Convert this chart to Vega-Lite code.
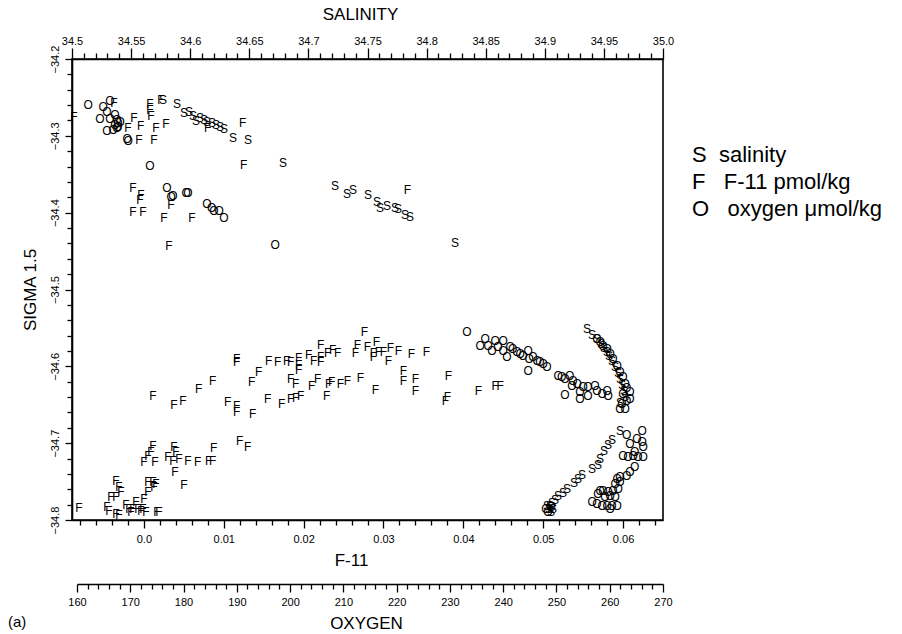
{
"$schema":"https://vega.github.io/schema/vega-lite/v6.json",
"width":591,"height":461,
"autosize":{"type":"none"},
"padding":{"left":72,"top":59,"right":239,"bottom":114},
"background":"white",
"title":{"text":"(a)","orient":"bottom","anchor":"start","frame":"group","dx":-64,"dy":-20,"fontSize":15,"fontWeight":"normal","font":"Liberation Sans","color":"black"},
"datasets":{"pts":[
{"t":"S","x":34.577,"y":-34.2532},{"t":"S","x":34.5888,"y":-34.2584},{"t":"S","x":34.5948,"y":-34.2701},{"t":"S","x":34.599,"y":-34.2688},{"t":"S","x":34.6024,"y":-34.274},{"t":"S","x":34.6049,"y":-34.2805},{"t":"S","x":34.6083,"y":-34.2766},{"t":"S","x":34.6117,"y":-34.2792},{"t":"S","x":34.6142,"y":-34.2818},{"t":"S","x":34.6184,"y":-34.2831},{"t":"S","x":34.6218,"y":-34.2857},{"t":"S","x":34.6252,"y":-34.2883},{"t":"S","x":34.6286,"y":-34.2909},{"t":"S","x":34.6362,"y":-34.3026},{"t":"S","x":34.6489,"y":-34.3052},{"t":"S","x":34.6785,"y":-34.3351},{"t":"S","x":34.7225,"y":-34.3649},{"t":"S","x":34.7327,"y":-34.3753},{"t":"S","x":34.7377,"y":-34.3701},{"t":"S","x":34.7504,"y":-34.3766},{"t":"S","x":34.758,"y":-34.3857},{"t":"S","x":34.7606,"y":-34.3935},{"t":"S","x":34.7665,"y":-34.3909},{"t":"S","x":34.7733,"y":-34.3935},{"t":"S","x":34.7758,"y":-34.3948},{"t":"S","x":34.7817,"y":-34.4026},{"t":"S","x":34.7859,"y":-34.4052},{"t":"S","x":34.824,"y":-34.439},
{"t":"S","x":34.9357,"y":-34.5519},{"t":"S","x":34.9399,"y":-34.5597},{"t":"S","x":34.9442,"y":-34.5649},{"t":"S","x":34.9475,"y":-34.5714},{"t":"S","x":34.9501,"y":-34.5766},{"t":"S","x":34.9526,"y":-34.5818},{"t":"S","x":34.9543,"y":-34.587},{"t":"S","x":34.9568,"y":-34.5935},{"t":"S","x":34.9594,"y":-34.6013},{"t":"S","x":34.9619,"y":-34.6091},{"t":"S","x":34.9636,"y":-34.6169},{"t":"S","x":34.9653,"y":-34.6247},{"t":"S","x":34.967,"y":-34.6325},{"t":"S","x":34.9678,"y":-34.6403},{"t":"S","x":34.9636,"y":-34.6481},
{"t":"S","x":34.9636,"y":-34.6844},{"t":"S","x":34.9568,"y":-34.6961},{"t":"S","x":34.9535,"y":-34.7026},{"t":"S","x":34.9501,"y":-34.7104},{"t":"S","x":34.9467,"y":-34.7208},{"t":"S","x":34.945,"y":-34.7286},{"t":"S","x":34.9399,"y":-34.7338},{"t":"S","x":34.9315,"y":-34.7416},{"t":"S","x":34.9281,"y":-34.7468},{"t":"S","x":34.9247,"y":-34.752},{"t":"S","x":34.9188,"y":-34.7597},{"t":"S","x":34.9154,"y":-34.7649},{"t":"S","x":34.9112,"y":-34.7688},{"t":"S","x":34.9086,"y":-34.774},{"t":"S","x":34.9061,"y":-34.7779},{"t":"S","x":34.9044,"y":-34.7818},{"t":"S","x":34.9035,"y":-34.7857},{"t":"S","x":34.9069,"y":-34.7857},{"t":"S","x":34.9052,"y":-34.7896},{"t":"S","x":34.9019,"y":-34.7818},
{"t":"F","x":-0.00875,"y":-34.2753},{"t":"F","x":-0.00375,"y":-34.2571},{"t":"F","x":-0.002,"y":-34.2896},{"t":"F","x":-0.00125,"y":-34.2766},{"t":"F","x":-0.0004,"y":-34.287},{"t":"F","x":0.00075,"y":-34.2584},{"t":"F","x":0.00075,"y":-34.2662},{"t":"F","x":0.000875,"y":-34.274},{"t":"F","x":0.0015,"y":-34.2896},{"t":"F","x":0.00275,"y":-34.2844},{"t":"F","x":-0.000625,"y":-34.3052},{"t":"F","x":0.00125,"y":-34.3052},{"t":"F","x":0.008,"y":-34.2896},{"t":"F","x":0.002125,"y":-34.2532},{"t":"F","x":0.012375,"y":-34.2831},{"t":"F","x":0.0125,"y":-34.3377},{"t":"F","x":0.033,"y":-34.3701},
{"t":"F","x":-0.001375,"y":-34.3675},{"t":"F","x":-0.000375,"y":-34.3766},{"t":"F","x":-0.0005,"y":-34.3831},{"t":"F","x":-0.001375,"y":-34.3987},{"t":"F","x":-0.000125,"y":-34.3987},{"t":"F","x":0.0025,"y":-34.4065},{"t":"F","x":0.003375,"y":-34.3896},{"t":"F","x":0.006,"y":-34.4065},{"t":"F","x":0.003125,"y":-34.4429},
{"t":"F","x":0.011625,"y":-34.5909},{"t":"F","x":0.011625,"y":-34.5948},{"t":"F","x":0.015625,"y":-34.5935},{"t":"F","x":0.01675,"y":-34.5948},{"t":"F","x":0.017875,"y":-34.5935},{"t":"F","x":0.018375,"y":-34.5948},{"t":"F","x":0.019375,"y":-34.5896},{"t":"F","x":0.019375,"y":-34.5987},{"t":"F","x":0.019375,"y":-34.6052},{"t":"F","x":0.020625,"y":-34.5857},{"t":"F","x":0.02125,"y":-34.5935},{"t":"F","x":0.022125,"y":-34.5727},{"t":"F","x":0.022125,"y":-34.5883},{"t":"F","x":0.022125,"y":-34.5948},{"t":"F","x":0.023,"y":-34.5831},{"t":"F","x":0.023625,"y":-34.5792},{"t":"F","x":0.02425,"y":-34.5831},{"t":"F","x":0.0265,"y":-34.5831},{"t":"F","x":0.02675,"y":-34.5727},{"t":"F","x":0.027625,"y":-34.5558},{"t":"F","x":0.028,"y":-34.5753},{"t":"F","x":0.029125,"y":-34.5688},{"t":"F","x":0.02875,"y":-34.5831},{"t":"F","x":0.02875,"y":-34.5883},{"t":"F","x":0.029375,"y":-34.5818},{"t":"F","x":0.03,"y":-34.5818},{"t":"F","x":0.030875,"y":-34.5766},{"t":"F","x":0.030625,"y":-34.5935},{"t":"F","x":0.031875,"y":-34.5805},{"t":"F","x":0.0335,"y":-34.5844},{"t":"F","x":0.035375,"y":-34.5818},
{"t":"F","x":0.0135,"y":-34.6208},{"t":"F","x":0.014375,"y":-34.6078},{"t":"F","x":0.008625,"y":-34.6195},{"t":"F","x":0.006875,"y":-34.6299},{"t":"F","x":0.004875,"y":-34.6455},{"t":"F","x":0.00375,"y":-34.6506},{"t":"F","x":0.001125,"y":-34.639},
{"t":"F","x":0.0105,"y":-34.6468},{"t":"F","x":0.011625,"y":-34.6519},{"t":"F","x":0.011625,"y":-34.6597},{"t":"F","x":0.013625,"y":-34.6623},{"t":"F","x":0.0155,"y":-34.6429},{"t":"F","x":0.01725,"y":-34.6494},{"t":"F","x":0.018375,"y":-34.6429},{"t":"F","x":0.019,"y":-34.6416},{"t":"F","x":0.019625,"y":-34.639},{"t":"F","x":0.018375,"y":-34.6169},{"t":"F","x":0.019,"y":-34.6234},{"t":"F","x":0.021,"y":-34.626},{"t":"F","x":0.02175,"y":-34.6169},{"t":"F","x":0.022875,"y":-34.639},{"t":"F","x":0.023125,"y":-34.6234},{"t":"F","x":0.0235,"y":-34.6208},{"t":"F","x":0.024625,"y":-34.6234},{"t":"F","x":0.0255,"y":-34.6195},{"t":"F","x":0.027125,"y":-34.6156},{"t":"F","x":0.029,"y":-34.6312},{"t":"F","x":0.0325,"y":-34.6065},{"t":"F","x":0.0325,"y":-34.6195},{"t":"F","x":0.034,"y":-34.6169},{"t":"F","x":0.034,"y":-34.6325},{"t":"F","x":0.038125,"y":-34.613},{"t":"F","x":0.038,"y":-34.6403},{"t":"F","x":0.03775,"y":-34.6455},{"t":"F","x":0.041875,"y":-34.6325},{"t":"F","x":0.044,"y":-34.626},{"t":"F","x":0.044625,"y":-34.626},{"t":"F","x":0.012,"y":-34.6974},{"t":"F","x":0.013,"y":-34.7052},
{"t":"F","x":-0.0035,"y":-34.7493},{"t":"F","x":-0.003125,"y":-34.7571},{"t":"F","x":-0.002875,"y":-34.7636},{"t":"F","x":-0.004125,"y":-34.7701},{"t":"F","x":-0.0035,"y":-34.7701},{"t":"F","x":-0.004375,"y":-34.7883},{"t":"F","x":-0.0035,"y":-34.7922},{"t":"F","x":-0.003125,"y":-34.7935},{"t":"F","x":-0.008125,"y":-34.7844},{"t":"F","x":-0.001875,"y":-34.7857},{"t":"F","x":-0.001375,"y":-34.7857},{"t":"F","x":-0.001,"y":-34.7766},{"t":"F","x":-0.00075,"y":-34.7857},{"t":"F","x":-0.000125,"y":-34.7857},{"t":"F","x":0,"y":-34.7727},{"t":"F","x":0.0005,"y":-34.7636},{"t":"F","x":0.0005,"y":-34.7506},{"t":"F","x":0.001125,"y":-34.7506},{"t":"F","x":0.0015,"y":-34.7532},{"t":"F","x":0.00125,"y":-34.7571},{"t":"F","x":0.001625,"y":-34.7896},{"t":"F","x":0.001875,"y":-34.7896},{"t":"F","x":-0.00225,"y":-34.7805},{"t":"F","x":-0.001625,"y":-34.7896},{"t":"F","x":-0.000375,"y":-34.7883},{"t":"F","x":0.00025,"y":-34.7896},{"t":"F","x":-0.004625,"y":-34.7831},
{"t":"F","x":0.001125,"y":-34.7039},{"t":"F","x":0.000875,"y":-34.7117},{"t":"F","x":0.0005,"y":-34.7169},{"t":"F","x":0,"y":-34.7247},{"t":"F","x":0.001375,"y":-34.7247},{"t":"F","x":0.003,"y":-34.7182},{"t":"F","x":0.00375,"y":-34.7052},{"t":"F","x":0.004,"y":-34.7117},{"t":"F","x":0.003625,"y":-34.7234},{"t":"F","x":0.004375,"y":-34.7208},{"t":"F","x":0.003875,"y":-34.7377},{"t":"F","x":0.0055,"y":-34.7234},{"t":"F","x":0.00675,"y":-34.7247},{"t":"F","x":0.008125,"y":-34.7234},{"t":"F","x":0.008625,"y":-34.7234},{"t":"F","x":0.00875,"y":-34.7065},{"t":"F","x":0.005,"y":-34.7545},
{"t":"O","x":162.1,"y":-34.2597},{"t":"O","x":164.9,"y":-34.2623},{"t":"O","x":166.2,"y":-34.2545},{"t":"O","x":164.3,"y":-34.2779},{"t":"O","x":165.6,"y":-34.2688},{"t":"O","x":166.2,"y":-34.2779},{"t":"O","x":165.6,"y":-34.2935},{"t":"O","x":167.1,"y":-34.2727},{"t":"O","x":167.5,"y":-34.2792},{"t":"O","x":167.7,"y":-34.2831},{"t":"O","x":167.1,"y":-34.2857},{"t":"O","x":167.5,"y":-34.2896},{"t":"O","x":166.8,"y":-34.2922},{"t":"O","x":168.1,"y":-34.2818},{"t":"O","x":167.7,"y":-34.2883},{"t":"O","x":169.4,"y":-34.3039},{"t":"O","x":169.6,"y":-34.3065},{"t":"O","x":173.7,"y":-34.339},{"t":"O","x":176.9,"y":-34.3675},{"t":"O","x":177.7,"y":-34.3792},{"t":"O","x":178.0,"y":-34.3779},{"t":"O","x":180.5,"y":-34.374},{"t":"O","x":180.8,"y":-34.374},{"t":"O","x":184.4,"y":-34.3883},{"t":"O","x":185.3,"y":-34.3935},{"t":"O","x":185.7,"y":-34.3974},{"t":"O","x":186.7,"y":-34.3974},{"t":"O","x":187.6,"y":-34.4065},{"t":"O","x":197.2,"y":-34.4416},
{"t":"O","x":233.2,"y":-34.5558},{"t":"O","x":235.7,"y":-34.574},{"t":"O","x":236.6,"y":-34.5649},{"t":"O","x":237.2,"y":-34.574},{"t":"O","x":237.9,"y":-34.5805},{"t":"O","x":238.5,"y":-34.5675},{"t":"O","x":239.0,"y":-34.5753},{"t":"O","x":240.0,"y":-34.5675},{"t":"O","x":240.0,"y":-34.5805},{"t":"O","x":240.7,"y":-34.5883},{"t":"O","x":241.3,"y":-34.5753},{"t":"O","x":241.8,"y":-34.5779},{"t":"O","x":242.6,"y":-34.5818},{"t":"O","x":243.2,"y":-34.5844},{"t":"O","x":243.7,"y":-34.587},{"t":"O","x":244.7,"y":-34.5805},{"t":"O","x":244.9,"y":-34.5909},{"t":"O","x":245.6,"y":-34.5883},{"t":"O","x":246.4,"y":-34.5935},{"t":"O","x":246.9,"y":-34.5948},{"t":"O","x":247.5,"y":-34.5974},{"t":"O","x":248.2,"y":-34.6013},{"t":"O","x":244.7,"y":-34.6065},{"t":"O","x":250.3,"y":-34.613},{"t":"O","x":251.0,"y":-34.6143},{"t":"O","x":251.6,"y":-34.6169},{"t":"O","x":252.5,"y":-34.613},{"t":"O","x":253.1,"y":-34.6195},{"t":"O","x":253.9,"y":-34.6234},{"t":"O","x":252.9,"y":-34.626},{"t":"O","x":251.6,"y":-34.6377},{"t":"O","x":254.4,"y":-34.6338},{"t":"O","x":255.0,"y":-34.6273},{"t":"O","x":255.9,"y":-34.6273},{"t":"O","x":257.2,"y":-34.626},{"t":"O","x":257.6,"y":-34.6325},{"t":"O","x":255.9,"y":-34.639},{"t":"O","x":254.4,"y":-34.6429},{"t":"O","x":258.6,"y":-34.6364},{"t":"O","x":259.7,"y":-34.639},{"t":"O","x":259.5,"y":-34.6325},
{"t":"O","x":257.6,"y":-34.5649},{"t":"O","x":258.2,"y":-34.5688},{"t":"O","x":258.7,"y":-34.574},{"t":"O","x":259.5,"y":-34.5779},{"t":"O","x":260.1,"y":-34.5844},{"t":"O","x":260.6,"y":-34.5909},{"t":"O","x":261.4,"y":-34.6},{"t":"O","x":261.9,"y":-34.6078},{"t":"O","x":262.5,"y":-34.6143},{"t":"O","x":262.9,"y":-34.6234},{"t":"O","x":263.2,"y":-34.6286},{"t":"O","x":262.5,"y":-34.6364},{"t":"O","x":263.8,"y":-34.6338},{"t":"O","x":263.2,"y":-34.6455},{"t":"O","x":262.3,"y":-34.6494},{"t":"O","x":261.9,"y":-34.6558},{"t":"O","x":262.9,"y":-34.6558},{"t":"O","x":263.8,"y":-34.6429},
{"t":"O","x":266.1,"y":-34.6844},{"t":"O","x":265.1,"y":-34.6948},{"t":"O","x":266.1,"y":-34.6987},{"t":"O","x":263.8,"y":-34.7013},{"t":"O","x":266.3,"y":-34.7052},{"t":"O","x":264.7,"y":-34.7117},{"t":"O","x":262.5,"y":-34.7169},{"t":"O","x":263.4,"y":-34.7182},{"t":"O","x":264.4,"y":-34.7169},{"t":"O","x":265.3,"y":-34.7182},{"t":"O","x":266.3,"y":-34.7182},{"t":"O","x":264.7,"y":-34.7312},{"t":"O","x":263.8,"y":-34.7377},{"t":"O","x":263.2,"y":-34.7429},{"t":"O","x":261.9,"y":-34.7442},{"t":"O","x":261.4,"y":-34.7468},{"t":"O","x":261.0,"y":-34.7532},{"t":"O","x":261.9,"y":-34.7506},{"t":"O","x":261.6,"y":-34.7597},{"t":"O","x":260.6,"y":-34.7623},{"t":"O","x":259.7,"y":-34.7636},{"t":"O","x":258.7,"y":-34.7623},{"t":"O","x":258.2,"y":-34.7623},{"t":"O","x":257.8,"y":-34.7662},{"t":"O","x":260.1,"y":-34.7688},{"t":"O","x":261.0,"y":-34.7701},{"t":"O","x":259.1,"y":-34.7701},{"t":"O","x":256.7,"y":-34.7766},{"t":"O","x":257.6,"y":-34.7792},{"t":"O","x":258.6,"y":-34.7818},{"t":"O","x":259.5,"y":-34.7818},{"t":"O","x":260.4,"y":-34.7818},{"t":"O","x":261.4,"y":-34.7818},{"t":"O","x":260.1,"y":-34.7857},{"t":"O","x":263.2,"y":-34.6896},{"t":"O","x":248.0,"y":-34.7857},{"t":"O","x":248.4,"y":-34.7896},{"t":"O","x":249.0,"y":-34.7831}
]},
"data":{"name":"pts"},
"encoding":{
 "y":{"field":"y","type":"quantitative","scale":{"domain":[-34.8,-34.2],"nice":false,"zero":false},
  "axis":{"title":"SIGMA 1.5","orient":"left",
   "values":[-34.8,-34.78,-34.76,-34.74,-34.72,-34.7,-34.68,-34.66,-34.64,-34.62,-34.6,-34.58,-34.56,-34.54,-34.52,-34.5,-34.48,-34.46,-34.44,-34.42,-34.4,-34.38,-34.36,-34.34,-34.32,-34.3,-34.28,-34.26,-34.24,-34.22,-34.2],
   "labelExpr":"abs(datum.value*10 - round(datum.value*10)) < 0.01 ? format(datum.value, '.1f') : ''",
   "tickSize":{"condition":{"test":"abs(datum.value*10 - round(datum.value*10)) < 0.01","value":7},"value":5},
   "labelAngle":270,"labelAlign":"center","labelBaseline":"bottom","labelPadding":5,"titlePadding":10}}
},
"layer":[
 {"transform":[{"filter":"datum.t=='S'"}],
  "mark":{"type":"text","font":"Liberation Sans","fontSize":12,"baseline":"middle","align":"center"},
  "encoding":{
   "x":{"field":"x","type":"quantitative","scale":{"domain":[34.5,35.0],"nice":false,"zero":false},
    "axis":{"orient":"top","title":"SALINITY",
     "values":[34.5,34.51,34.52,34.53,34.54,34.55,34.56,34.57,34.58,34.59,34.6,34.61,34.62,34.63,34.64,34.65,34.66,34.67,34.68,34.69,34.7,34.71,34.72,34.73,34.74,34.75,34.76,34.77,34.78,34.79,34.8,34.81,34.82,34.83,34.84,34.85,34.86,34.87,34.88,34.89,34.9,34.91,34.92,34.93,34.94,34.95,34.96,34.97,34.98,34.99,35.0],
     "labelExpr":"abs(datum.value*20 - round(datum.value*20)) < 0.01 ? (datum.value == 35 ? '35.0' : format(datum.value, '.2~f')) : ''",
     "tickSize":{"condition":{"test":"abs(datum.value*20 - round(datum.value*20)) < 0.01","value":11},"value":6},
     "labelPadding":2,"titlePadding":12,"titleX":288}},
   "text":{"field":"t"},
   "color":{"field":"t","type":"nominal","scale":{"domain":["S","F","O"],"range":["black","black","black"]},
    "legend":{"orient":"none","legendX":598,"legendY":85,"title":null,
     "labelExpr":"datum.value=='S' ? 'S\u00a0\u00a0salinity' : datum.value=='F' ? 'F\u00a0\u00a0\u00a0F-11 pmol/kg' : 'O\u00a0\u00a0\u00a0oxygen μmol/kg'",
     "symbolOpacity":0,"symbolSize":0,"symbolStrokeWidth":0,"labelOffset":0,"labelFontSize":22,"labelFont":"Liberation Sans","labelColor":"black","rowPadding":5,"padding":0,"labelLimit":400}}
  }},
 {"transform":[{"filter":"datum.t=='F'"}],
  "mark":{"type":"text","font":"Liberation Sans","fontSize":12,"baseline":"middle","align":"center"},
  "encoding":{
   "x":{"field":"x","type":"quantitative","scale":{"domain":[-0.009,0.065],"nice":false,"zero":false},
    "axis":{"orient":"bottom","title":"F-11",
     "values":[-0.008,-0.006,-0.004,-0.002,0,0.002,0.004,0.006,0.008,0.01,0.012,0.014,0.016,0.018,0.02,0.022,0.024,0.026,0.028,0.03,0.032,0.034,0.036,0.038,0.04,0.042,0.044,0.046,0.048,0.05,0.052,0.054,0.056,0.058,0.06,0.062,0.064],
     "labelExpr":"abs(datum.value*100 - round(datum.value*100)) < 0.01 && datum.value >= 0 ? (datum.value == 0 ? '0.0' : format(datum.value, '.2f')) : ''",
     "tickSize":{"condition":{"test":"abs(datum.value*100 - round(datum.value*100)) < 0.01","value":8},"value":5},
     "labelPadding":5,"titlePadding":8,"titleX":279}},
   "text":{"field":"t"},
   "color":{"field":"t","type":"nominal","scale":{"domain":["S","F","O"],"range":["black","black","black"]}}
  }},
 {"transform":[{"filter":"datum.t=='O'"}],
  "mark":{"type":"text","font":"Liberation Sans","fontSize":12,"baseline":"middle","align":"center"},
  "encoding":{
   "x":{"field":"x","type":"quantitative","scale":{"domain":[160,270],"range":[5,591],"nice":false,"zero":false},
    "axis":{"orient":"bottom","title":"OXYGEN","offset":64,
     "values":[160,162,164,166,168,170,172,174,176,178,180,182,184,186,188,190,192,194,196,198,200,202,204,206,208,210,212,214,216,218,220,222,224,226,228,230,232,234,236,238,240,242,244,246,248,250,252,254,256,258,260,262,264,266,268,270],
     "labelExpr":"datum.value % 10 == 0 ? format(datum.value, 'd') : ''",
     "tickSize":{"condition":{"test":"datum.value % 10 == 0","value":8},"value":5},
     "labelPadding":4,"titlePadding":8,"titleX":294}},
   "text":{"field":"t"},
   "color":{"field":"t","type":"nominal","scale":{"domain":["S","F","O"],"range":["black","black","black"]}}
  }}
],
"resolve":{"scale":{"x":"independent"},"axis":{"x":"independent"}},
"config":{
 "view":{"stroke":"black","strokeWidth":1.6},
 "axis":{"domainColor":"black","domainWidth":1.6,"tickColor":"black","tickWidth":1.3,"labelFont":"Liberation Sans","labelFontSize":11,"labelColor":"black","titleFont":"Liberation Sans","titleFontSize":17,"titleFontWeight":"normal","titleColor":"black","grid":false,"labelOverlap":false,"labelFlush":false,"labelBound":false}
}
}
